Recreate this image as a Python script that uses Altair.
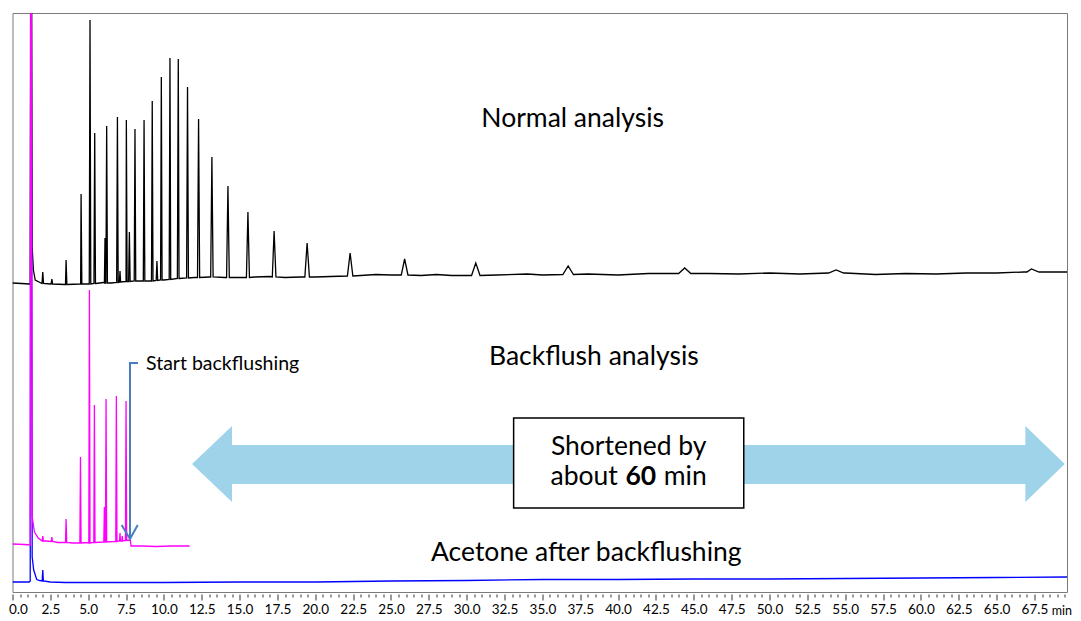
import altair as alt
import pandas as pd

# ---------------- data ----------------
# Normal analysis (black): baseline knots (time min, signal) incl. solvent peak
normal_knot_t = [0, 0.6, 1.1, 1.17, 1.22, 1.3, 1.38, 1.5, 2.5, 3.5, 4.5, 5.5, 6.0, 6.5, 7.5, 8.5, 9.0, 10, 11,
                 12, 13, 14, 15, 16, 17, 18, 19, 20, 21, 23, 24, 25, 27, 28, 29, 32, 34, 35, 38, 40, 42, 46,
                 48, 50, 52, 55, 57, 59, 61, 63, 65, 67, 69.65]
normal_knot_v = [309, 308.5, 308, 308, 900, 345, 322, 312, 308, 307.5, 308, 308.5, 309.5, 309, 310.5, 311, 311,
                 312, 313.5, 314.5, 315, 314.5, 314.5, 315, 315.5, 314.5, 315, 315, 315.5, 316.5, 317.5, 317,
                 316.5, 317.5, 316.5, 317, 318, 317, 318, 317, 318.5, 318.5, 318, 319, 318, 319, 317.5, 318.5,
                 318, 319, 319, 320, 320]
normal_peak_t = [2.0, 2.6, 3.54, 4.53, 5.12, 5.43, 6.11, 6.22, 6.93, 7.1, 7.52, 7.72, 8.09, 8.69, 9.23, 9.54,
                 9.83, 10.4, 10.95, 11.56, 12.29, 13.17, 14.23, 15.55, 17.28, 19.46, 22.3, 25.9, 30.6, 36.7,
                 44.4, 54.4, 67.3]
normal_peak_top = [320, 313, 332, 398, 572, 459, 354, 466, 475, 321, 472, 360, 463, 472, 491, 331, 515, 534,
                   533, 505, 473, 435, 406, 380, 361, 349, 339, 333, 329, 326, 324, 322, 323]
normal_peak_base = [308.5, 308, 307.5, 308, 308, 308.5, 309, 309, 309.5, 310, 310.5, 310.5, 311, 311, 311,
                    311.5, 312, 312.5, 313.5, 314, 314.5, 315, 314.5, 314.5, 315, 315, 316, 317, 316.5, 317.5,
                    318.5, 319, 320]
normal_peak_w = [0.05, 0.05, 0.05, 0.05, 0.05, 0.05, 0.04, 0.05, 0.05, 0.04, 0.05, 0.05, 0.05, 0.05, 0.05,
                 0.05, 0.05, 0.05, 0.06, 0.06, 0.07, 0.08, 0.09, 0.1, 0.12, 0.15, 0.18, 0.22, 0.28, 0.35, 0.4,
                 0.5, 0.5]

# Backflush analysis (magenta)
back_knot_t = [0, 0.8, 1.17, 1.22, 1.3, 1.45, 1.7, 2.2, 3, 4, 5, 6, 7, 7.78, 7.83, 8.5, 9.5, 10.5, 11.7]
back_knot_v = [48, 47.5, 47, 900, 75, 60, 54, 51, 49.5, 49, 49.5, 50, 51, 52, 46, 46, 45.5, 46, 46]
back_peak_t = [2.0, 2.6, 3.54, 4.49, 5.08, 5.41, 6.07, 6.18, 6.86, 7.1, 7.25, 7.5]
back_peak_top = [56, 55, 73, 135, 302, 187, 85, 193, 196, 59, 56, 191]
back_peak_base = [51, 50.5, 49.5, 49, 49, 49.5, 50, 50, 50.5, 51, 51, 51.5]
back_peak_w = [0.04, 0.04, 0.04, 0.04, 0.04, 0.04, 0.04, 0.04, 0.04, 0.03, 0.03, 0.04]

# Acetone after backflushing (blue)
acet_knot_t = [0, 1.1, 1.17, 1.22, 1.3, 1.4, 1.6, 1.8, 2.5, 3.5, 5, 10, 15, 20, 25, 30, 35, 40, 45, 50, 55,
               60, 65, 69.65]
acet_knot_v = [10, 10, 11, 900, 35, 22, 12.5, 11.5, 10, 9.5, 9.5, 9.5, 10, 10, 11, 11.5, 12.5, 12.5, 13, 13,
               13.5, 14, 14.5, 15]
acet_peak_t = [2.0]
acet_peak_top = [22]
acet_peak_base = [11]
acet_peak_w = [0.04]

# axis ticks: every 0.5 min, labelled every 2.5 min
tick_values = [i * 0.5 for i in range(140)]

# annotations
label_text = ["Normal analysis", "Backflush analysis", "Acetone after backflushing"]
label_t = [37.0, 38.4, 37.9]
label_v = [473, 235, 39]

# double arrow: left head, shaft, right head
lhead_t = [11.86, 14.5]
lhead_top = [128, 166]
lhead_bot = [128, 90]
shaft_t = [14.4]
shaft_t2 = [67.0]
shaft_v = [108]
shaft_v2 = [147]
rhead_t = [66.9, 69.5]
rhead_top = [166, 128]
rhead_bot = [90, 128]

box_t = [33.1]
box_t2 = [48.3]
box_v = [84]
box_v2 = [174]

bracket_t = [8.29, 7.76, 7.76]
bracket_v = [229, 229, 54]
head_t = [7.21, 7.76, 8.27]
head_v = [67, 53, 67]

FONT = "Lato"
X_DOMAIN = [0, 69.65]
Y_DOMAIN = [0, 579]
BIG = 26.5


def build_trace(kt, kv, pt, ptop, pbase, pw):
    pts = list(zip(kt, kv))
    for t, top, b, w in zip(pt, ptop, pbase, pw):
        pts += [(t - w, b), (t, top), (t + w, b)]
    pts.sort(key=lambda p: p[0])
    return pd.DataFrame({"t": [p[0] for p in pts], "v": [p[1] for p in pts], "i": list(range(len(pts)))})


normal_df = build_trace(normal_knot_t, normal_knot_v, normal_peak_t, normal_peak_top, normal_peak_base, normal_peak_w)
back_df = build_trace(back_knot_t, back_knot_v, back_peak_t, back_peak_top, back_peak_base, back_peak_w)
acet_df = build_trace(acet_knot_t, acet_knot_v, acet_peak_t, acet_peak_top, acet_peak_base, acet_peak_w)

xs = alt.Scale(domain=X_DOMAIN, nice=False, zero=False)
ys = alt.Scale(domain=Y_DOMAIN, nice=False, zero=False)

x_axis = alt.Axis(
    values=tick_values, orient="bottom", domain=False, grid=False,
    labelExpr="datum.value % 2.5 === 0 ? format(datum.value, '.1f') : ''",
    labelOverlap=False, labelFlush=True, labelFlushOffset=4,
    tickSize={"condition": {"test": "datum.value % 2.5 === 0", "value": 6}, "value": 3},
    tickColor="#333333", tickWidth=1, offset=2, labelFont=FONT,
    labelFontSize=13.5, labelColor="#000000", labelPadding=2,
    title="min", titleFont=FONT, titleFontSize=12.5, titleFontWeight="normal",
    titleX=1059, titleY=16, titleAlign="right", titleBaseline="middle", titleColor="#000000")

X = alt.X("t:Q", scale=xs, axis=x_axis)
Y = alt.Y("v:Q", scale=ys, axis=None)


def trace(df, color):
    return alt.Chart(df).mark_line(color=color, strokeWidth=1.3, clip=True).encode(
        x=X, y=Y, order="i:Q")


normal_layer = trace(normal_df, "#000000")
acet_layer = trace(acet_df, "#0000ff")
back_layer = trace(back_df, "#ff00ff")

ARROW = "#9ed3ea"
lhead_df = pd.DataFrame({"t": lhead_t, "v": lhead_top, "bot": lhead_bot})
lhead_layer = alt.Chart(lhead_df).mark_area(color=ARROW, opacity=1).encode(x=X, y=Y, y2="bot:Q")
rhead_df = pd.DataFrame({"t": rhead_t, "v": rhead_top, "bot": rhead_bot})
rhead_layer = alt.Chart(rhead_df).mark_area(color=ARROW, opacity=1).encode(x=X, y=Y, y2="bot:Q")
shaft_df = pd.DataFrame({"t": shaft_t, "t2": shaft_t2, "v": shaft_v, "v2": shaft_v2})
shaft_layer = alt.Chart(shaft_df).mark_rect(color=ARROW, opacity=1).encode(x=X, x2="t2:Q", y=Y, y2="v2:Q")

box_df = pd.DataFrame({"t": box_t, "t2": box_t2, "v": box_v, "v2": box_v2})
box_layer = alt.Chart(box_df).mark_rect(fill="#ffffff", stroke="#000000", strokeWidth=1.5).encode(
    x=X, x2="t2:Q", y=Y, y2="v2:Q")

box_text_df = pd.DataFrame({"t": [40.7], "v": [145], "txt": ["Shortened by"]})
box_text = alt.Chart(box_text_df).mark_text(font=FONT, fontSize=BIG, color="#000000", align="center",
                                             baseline="middle").encode(x=X, y=Y, text="txt:N")
about_df = pd.DataFrame({"t": [41.5], "v": [115]})
about_txt = alt.Chart(about_df).mark_text(font=FONT, fontSize=BIG, color="#000000", align="right",
                                           baseline="middle", dx=-23, text="about").encode(x=X, y=Y)
sixty_txt = alt.Chart(about_df).mark_text(font=FONT, fontSize=BIG, fontWeight="bold", color="#000000",
                                           align="center", baseline="middle", text="60").encode(x=X, y=Y)
min_txt = alt.Chart(about_df).mark_text(font=FONT, fontSize=BIG, color="#000000", align="left",
                                         baseline="middle", dx=23, text="min").encode(x=X, y=Y)

labels_df = pd.DataFrame({"t": label_t, "v": label_v, "txt": label_text})
labels_layer = alt.Chart(labels_df).mark_text(font=FONT, fontSize=BIG, color="#000000", align="center",
                                               baseline="middle").encode(x=X, y=Y, text="txt:N")

bracket_df = pd.DataFrame({"t": bracket_t, "v": bracket_v, "i": [0, 1, 2]})
bracket_layer = alt.Chart(bracket_df).mark_line(color="#4a7dbf", strokeWidth=2).encode(
    x=X, y=Y, order="i:Q")
head_df = pd.DataFrame({"t": head_t, "v": head_v, "i": [0, 1, 2]})
head_layer = alt.Chart(head_df).mark_line(color="#4a7dbf", strokeWidth=2).encode(
    x=X, y=Y, order="i:Q")

start_df = pd.DataFrame({"t": [8.82], "v": [228], "txt": ["Start backflushing"]})
start_layer = alt.Chart(start_df).mark_text(font=FONT, fontSize=19.5, color="#000000", align="left",
                                             baseline="middle").encode(x=X, y=Y, text="txt:N")

chart = alt.layer(
    lhead_layer, shaft_layer, rhead_layer, box_layer, box_text, about_txt, sixty_txt, min_txt,
    normal_layer, acet_layer, back_layer,
    bracket_layer, head_layer, start_layer, labels_layer,
).properties(
    width=1054.5, height=579,
    autosize=alt.AutoSizeParams(type="none"),
    padding={"left": 4.5, "top": 5, "right": 6, "bottom": 25},
).configure_view(stroke="#7a7a7a", strokeWidth=1)

chart.save("out.html", embed_options={"renderer": "svg", "actions": False})
